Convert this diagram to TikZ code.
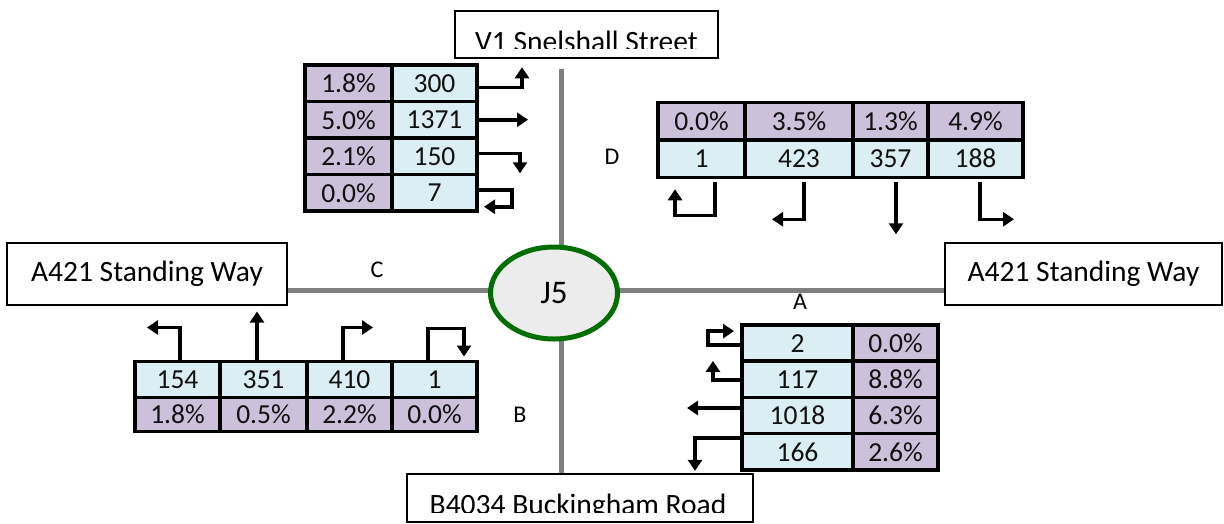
\documentclass[tikz,border=0pt]{standalone}
\usepackage{fontspec}
\setmainfont{Carlito}
\usetikzlibrary{positioning,shapes.geometric,arrows.meta}

\definecolor{lilac}{HTML}{CCC0DA}
\definecolor{paleblue}{HTML}{DAEEF3}
\definecolor{roadgray}{HTML}{808080}
\definecolor{ringgreen}{HTML}{006E00}
\definecolor{hubfill}{HTML}{ECECEC}
\definecolor{celltext}{HTML}{111111}

\begin{document}
\begin{tikzpicture}[x=1pt,y=-1pt,
  cell/.style={draw=black, line width=3.5pt, outer sep=0pt, inner sep=0pt,
    minimum height=36.5pt, text=celltext, font=\fontsize{27.5}{32}\selectfont},
  pct/.style={cell, fill=lilac},
  cnt/.style={cell, fill=paleblue},
  road/.style={draw=roadgray, line width=5pt},
  roadbox/.style={draw=black, line width=1.5pt, fill=white, inner sep=0pt},
  roadname/.style={font=\fontsize{29.5}{35}\selectfont},
  approach/.style={font=\fontsize{24}{29}\selectfont},
  turn/.style={line width=3.5pt, -{Triangle[length=11pt,width=14pt]}}]

\useasboundingbox (0,0) rectangle (1224,523);

% --- Road names ---
\node[roadbox, minimum width=263pt, minimum height=47pt] (north) at (586.5,34.5) {};
\begin{scope}
\clip (455,11) rectangle (718,48.5);
\node[roadname, anchor=base] (northname) at (586.5,51.5) {V1 Snelshall Street};
\end{scope}

\node[roadbox, minimum width=346pt, minimum height=48pt] (south) at (580,498) {};
\begin{scope}
\clip (407,474) rectangle (753,512);
\node[roadname, anchor=base] (southname) at (578,514.5) {B4034 Buckingham Road};
\end{scope}

\node[roadbox, roadname, minimum width=280pt, minimum height=62pt] (west) at (147,274) {A421 Standing Way};
\node[roadbox, roadname, minimum width=277pt, minimum height=62pt] (east) at (1083.5,274) {A421 Standing Way};

% --- Roads and junction ---
\coordinate (hub) at (561,290);
\draw[road] (west.east |- hub) -- (east.west |- hub);
\draw[road, shorten <=10pt] (hub |- north.south) -- (hub |- south.north);

\node[ellipse, draw=ringgreen, line width=5pt, fill=hubfill, inner sep=0pt,
  minimum width=127pt, minimum height=92pt, font=\fontsize{33}{40}\selectfont] (j5) at (554,293) {J5};

\node[approach] (armC) at (377,270) {C};
\node[approach] (armD) at (612,157) {D};
\node[approach] (armA) at (800,302) {A};
\node[approach] (armB) at (520,415) {B};

% --- Arm D (V1 Snelshall Street) ---
\node[pct, minimum width=87pt] (tl1a) at (348.5,83.25) {1.8\%};
\node[cnt, minimum width=85pt, right=0pt of tl1a] (tl1b) {300};
\node[pct, minimum width=87pt, below=0pt of tl1a] (tl2a) {5.0\%};
\node[cnt, minimum width=85pt, right=0pt of tl2a] (tl2b) {1371};
\node[pct, minimum width=87pt, below=0pt of tl2a] (tl3a) {2.1\%};
\node[cnt, minimum width=85pt, right=0pt of tl3a] (tl3b) {150};
\node[pct, minimum width=87pt, below=0pt of tl3a] (tl4a) {0.0\%};
\node[cnt, minimum width=85pt, right=0pt of tl4a] (tl4b) {7};

\draw[turn] (tl1b.east) ++(0,4) -- ++(45,0) -- ++(0,-20);
\draw[turn] (tl2b.east) -- ++(51,0);
\draw[turn] (tl3b.east) ++(0,-3) -- ++(43,0) -- ++(0,20);
\draw[turn] (tl4b.east) ++(0,-3) -- ++(35,0) -- ++(0,17) -- ++(-28,0);

% --- Arm A (A421 east) ---
\node[pct, minimum width=87pt, minimum height=37.5pt] (tr1a) at (701.5,121) {0.0\%};
\node[pct, minimum width=108pt, minimum height=37.5pt, right=0pt of tr1a] (tr1b) {3.5\%};
\node[pct, minimum width=75pt, minimum height=37.5pt, right=0pt of tr1b] (tr1c) {1.3\%};
\node[pct, minimum width=95pt, minimum height=37.5pt, right=0pt of tr1c] (tr1d) {4.9\%};
\node[cnt, minimum width=87pt, minimum height=37.5pt, below=0pt of tr1a] (tr2a) {1};
\node[cnt, minimum width=108pt, minimum height=37.5pt, right=0pt of tr2a] (tr2b) {423};
\node[cnt, minimum width=75pt, minimum height=37.5pt, right=0pt of tr2b] (tr2c) {357};
\node[cnt, minimum width=95pt, minimum height=37.5pt, right=0pt of tr2c] (tr2d) {188};

\draw[turn] (tr2a.south) ++(13.5,5) -- ++(0,33) -- ++(-40,0) -- ++(0,-26);
\draw[turn] (tr2b.south) ++(5,5) -- ++(0,37) -- ++(-32,0);
\draw[turn] (tr2c.south) ++(5.5,5) -- ++(0,52);
\draw[turn] (tr2d.south) ++(4.5,5) -- ++(0,37) -- ++(34,0);

% --- Arm C (A421 west) ---
\node[cnt, minimum width=85pt, minimum height=36pt] (bl1a) at (177.5,379.5) {154};
\node[cnt, minimum width=87pt, minimum height=36pt, right=0pt of bl1a] (bl1b) {351};
\node[cnt, minimum width=85pt, minimum height=36pt, right=0pt of bl1b] (bl1c) {410};
\node[cnt, minimum width=85pt, minimum height=36pt, right=0pt of bl1c] (bl1d) {1};
\node[pct, minimum width=85pt, minimum height=34pt, below=0pt of bl1a] (bl2a) {1.8\%};
\node[pct, minimum width=87pt, minimum height=34pt, right=0pt of bl2a] (bl2b) {0.5\%};
\node[pct, minimum width=85pt, minimum height=34pt, right=0pt of bl2b] (bl2c) {2.2\%};
\node[pct, minimum width=85pt, minimum height=34pt, right=0pt of bl2c] (bl2d) {0.0\%};

\draw[turn] (bl1a.north) ++(2.5,0) -- ++(0,-34) -- ++(-33,0);
\draw[turn] (bl1b.north) ++(-6.5,0) -- ++(0,-50);
\draw[turn] (bl1c.north) ++(-6.5,0) -- ++(0,-34) -- ++(30,0);
\draw[turn] (bl1d.north) ++(-6.5,0) -- ++(0,-33) -- ++(36,0) -- ++(0,28);

% --- Arm B (B4034 Buckingham Road) ---
\node[cnt, minimum width=111pt, minimum height=36.25pt] (br1a) at (797.5,343.1) {2};
\node[pct, minimum width=85pt, minimum height=36.25pt, right=0pt of br1a] (br1b) {0.0\%};
\node[cnt, minimum width=111pt, minimum height=36.25pt, below=0pt of br1a] (br2a) {117};
\node[pct, minimum width=85pt, minimum height=36.25pt, right=0pt of br2a] (br2b) {8.8\%};
\node[cnt, minimum width=111pt, minimum height=36.25pt, below=0pt of br2a] (br3a) {1018};
\node[pct, minimum width=85pt, minimum height=36.25pt, right=0pt of br3a] (br3b) {6.3\%};
\node[cnt, minimum width=111pt, minimum height=36.25pt, below=0pt of br3a] (br4a) {166};
\node[pct, minimum width=85pt, minimum height=36.25pt, right=0pt of br4a] (br4b) {2.6\%};

\draw[turn] (br1a.west) ++(-2,2) -- ++(-32,0) -- ++(0,-14) -- ++(26,0);
\draw[turn] (br2a.west) ++(0,0.6) -- ++(-29,0) -- ++(0,-19);
\draw[turn] (br3a.west) ++(0,-7.6) -- ++(-55,0);
\draw[turn] (br4a.west) ++(0,-14) -- ++(-47,0) -- ++(0,33);

\end{tikzpicture}
\end{document}
